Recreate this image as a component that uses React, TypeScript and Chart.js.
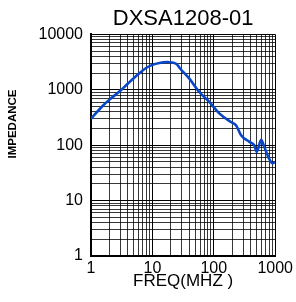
import { useEffect, useRef } from 'react';
import { Chart, registerables } from 'chart.js';

Chart.register(...registerables);

const TITLE = 'DXSA1208-01';
const X_TITLE = 'FREQ(MHZ )';
const Y_TITLE = 'IMPEDANCE';

const freqMHz = [1, 1.5, 2, 3, 4, 6, 8, 10, 13, 17, 21, 25, 28, 40, 58, 85, 124, 190, 230, 278, 380, 455, 500, 590, 665, 790, 905, 1000];
const impedance = [300, 495, 665, 960, 1300, 1950, 2500, 2820, 3050, 3170, 3100, 2900, 2450, 1590, 912, 600, 372, 262, 229, 151, 115, 100, 76, 125, 93, 58, 47, 50];

const xMajorTicks = [1, 10, 100, 1000];
const yMajorTicks = [1, 10, 100, 1000, 10000];
const minorSteps = [1, 2, 3, 4, 5, 6, 7, 8, 9];

const FONT = "'Liberation Sans', Arial, sans-serif";

function gridTicks(majors: number[]) {
  const out: { value: number }[] = [];
  majors.forEach((m, i) => {
    if (i === majors.length - 1) {
      out.push({ value: m });
    } else {
      minorSteps.forEach((k) => out.push({ value: m * k }));
    }
  });
  return out;
}

const yTitlePlugin = {
  id: 'yTitle',
  afterDraw(chart: any) {
    const ctx = chart.ctx;
    ctx.save();
    ctx.translate(13, 124);
    ctx.rotate(-Math.PI / 2);
    ctx.font = `bold 11.5px ${FONT}`;
    ctx.fillStyle = '#000';
    ctx.textAlign = 'center';
    ctx.textBaseline = 'middle';
    ctx.fillText(Y_TITLE, 0, 0);
    ctx.restore();
  },
};

export default function App() {
  const ref = useRef<HTMLCanvasElement>(null);
  useEffect(() => {
    document.body.style.margin = '0';
    const canvas = ref.current!;
    const gridColor = (majors: number[]) => (ctx: any) =>
      ctx.tick && majors.includes(ctx.tick.value) ? '#000' : 'rgba(0,0,0,0.78)';
    const chart = new Chart(canvas, {
      type: 'line',
      data: {
        datasets: [
          {
            data: freqMHz.map((f, i) => ({ x: f, y: impedance[i] })),
            borderColor: '#0846c8',
            borderWidth: 2.6,
            pointRadius: 0,
            cubicInterpolationMode: 'monotone',
            fill: false,
          },
        ],
      },
      options: {
        animation: false,
        responsive: false,
        devicePixelRatio: 1,
        layout: { padding: { left: 0, right: 20, top: 0, bottom: 0 } },
        plugins: {
          legend: { display: false },
          tooltip: { enabled: false },
          title: {
            display: true,
            text: TITLE,
            color: '#000',
            fullSize: false,
            font: { family: FONT, size: 22, weight: 'normal' },
            padding: { top: 6, bottom: 2 },
          },
        },
        scales: {
          x: {
            type: 'logarithmic',
            min: 1,
            max: 1000,
            afterBuildTicks: (s: any) => {
              s.ticks = gridTicks(xMajorTicks);
            },
            afterFit: (s: any) => {
              s.height = 46;
            },
            ticks: {
              autoSkip: false,
              maxRotation: 0,
              padding: 3,
              color: '#000',
              font: { family: FONT, size: 16 },
              callback: (v: any) => (xMajorTicks.includes(Number(v)) ? String(v) : ''),
            },
            grid: { color: gridColor(xMajorTicks), lineWidth: 1, drawTicks: false },
            border: { color: '#000', width: 2 },
            title: {
              display: true,
              text: X_TITLE,
              color: '#000',
              font: { family: FONT, size: 17 },
              padding: { top: 0, bottom: 10 },
            },
          },
          y: {
            type: 'logarithmic',
            min: 1,
            max: 10000,
            afterBuildTicks: (s: any) => {
              s.ticks = gridTicks(yMajorTicks);
            },
            afterFit: (s: any) => {
              s.width = 91;
            },
            ticks: {
              autoSkip: false,
              padding: 8,
              color: '#000',
              font: { family: FONT, size: 16 },
              callback: (v: any) => (yMajorTicks.includes(Number(v)) ? String(v) : ''),
            },
            grid: { color: gridColor(yMajorTicks), lineWidth: 1, drawTicks: false },
            border: { color: '#000', width: 2 },
          },
        },
      } as any,
      plugins: [yTitlePlugin],
    });
    return () => chart.destroy();
  }, []);
  return <canvas ref={ref} width={296} height={302} style={{ display: 'block', width: 296, height: 302 }} />;
}
